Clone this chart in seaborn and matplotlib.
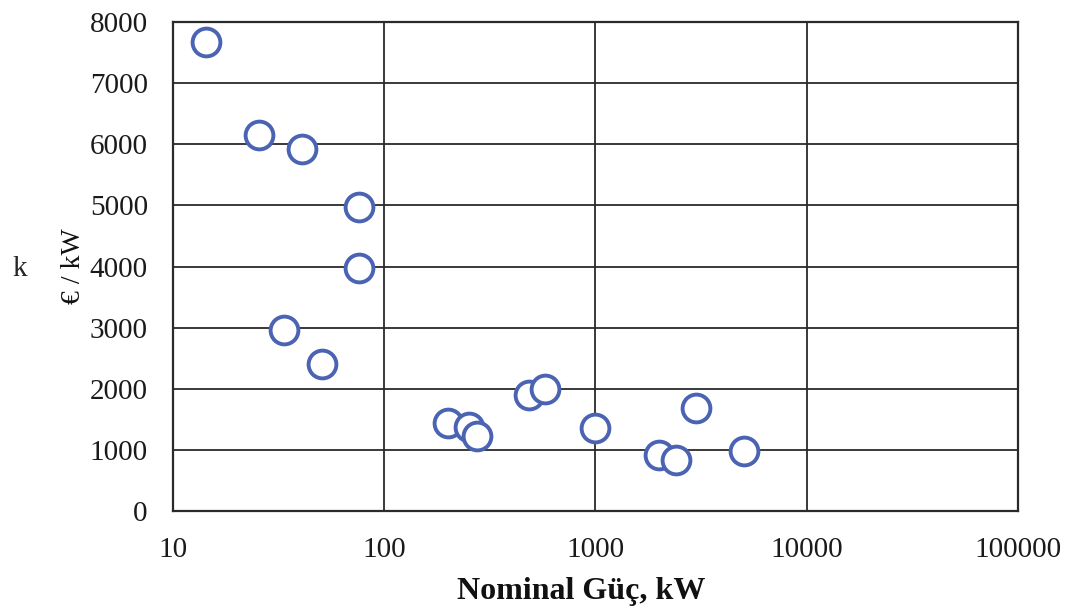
import numpy as np
import pandas as pd
import matplotlib
matplotlib.use("Agg")
import matplotlib.pyplot as plt
import seaborn as sns
from matplotlib.ticker import FixedLocator, FixedFormatter

# nominal power (kW) and specific cost (EUR/kW)
power_kw = [14.3, 25.5, 40.7, 76, 76, 33.4, 51, 201, 253, 276, 486, 578,
            1000, 1997, 2400, 2990, 5030]
cost_eur_kw = [7670, 6150, 5930, 4980, 3970, 2960, 2400, 1440, 1370, 1225,
               1895, 1990, 1355, 915, 835, 1680, 980]

x_ticks = [10, 100, 1000, 10000, 100000]
x_tick_labels = ["10", "100", "1000", "10000", "100000"]
y_ticks = [0, 1000, 2000, 3000, 4000, 5000, 6000, 7000, 8000]

df = pd.DataFrame({"power": power_kw, "cost": cost_eur_kw})

sns.set_theme(style="white")
plt.rcParams['font.family'] = ['Liberation Serif', 'DejaVu Serif']

fig = plt.figure(figsize=(10.67, 6.12), dpi=100)
ax = fig.add_axes([0.162, 0.165, 0.792, 0.799])

sns.scatterplot(data=df, x="power", y="cost", ax=ax, s=400, marker="o",
                facecolor="white", edgecolor="#4a63b3", linewidth=2.8,
                zorder=3, legend=False)

ax.set_xscale("log")
ax.set_xlim(10, 100000)
ax.set_ylim(0, 8000)
ax.xaxis.set_major_locator(FixedLocator(x_ticks))
ax.xaxis.set_major_formatter(FixedFormatter(x_tick_labels))
ax.xaxis.set_minor_locator(FixedLocator([]))
ax.set_yticks(y_ticks)
ax.set_yticklabels([str(v) for v in y_ticks])

ax.grid(True, which="major", color="#2a2a2a", linewidth=1.3)
ax.set_axisbelow(True)
for sp in ax.spines.values():
    sp.set_color("#2a2a2a")
    sp.set_linewidth(1.6)

ax.tick_params(axis="both", length=0, labelsize=21, colors="#1a1a1a")
ax.tick_params(axis="x", pad=19)
ax.tick_params(axis="y", pad=18)

ax.set_xlabel("Nominal Güç, kW", fontsize=23, fontweight="bold", color="#111111")
ax.xaxis.set_label_coords(0.483, -0.135)
ax.set_ylabel("€ / kW", fontsize=20, labelpad=3, color="#111111")
fig.text(0.012, 0.56, "k", fontsize=21, va="center", ha="left")

fig.savefig("out.png", dpi=100)
